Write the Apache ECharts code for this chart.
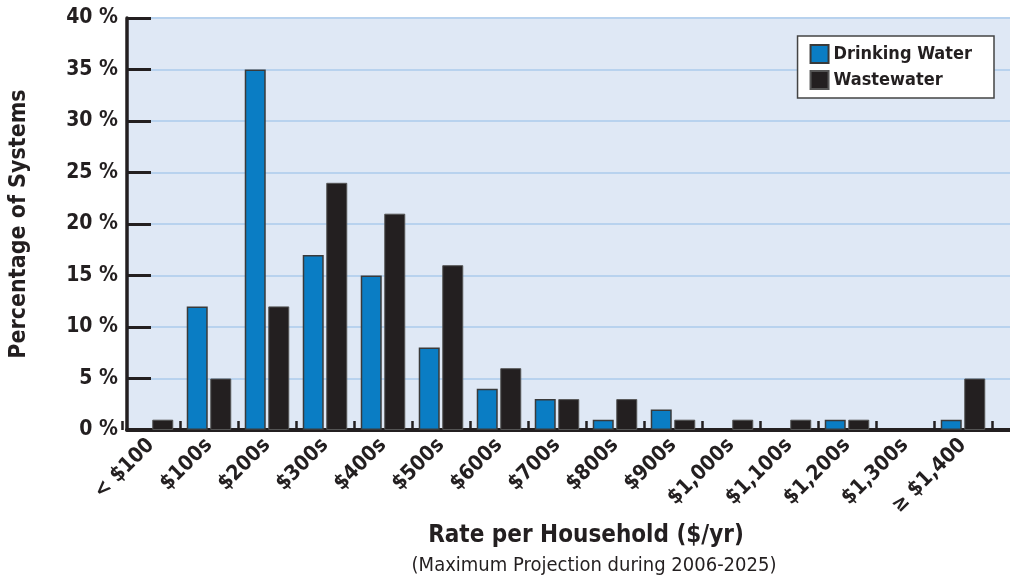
<!DOCTYPE html>
<html>
<head>
<meta charset="utf-8">
<script src="https://cdn.jsdelivr.net/npm/echarts@6/dist/echarts.min.js"></script>
<style>
  html, body { margin: 0; padding: 0; background: #fff; }
  #main { width: 1010px; height: 579px; }
</style>
</head>
<body>
<div id="main"></div>
<script>
var categories = ['< $100', '$100s', '$200s', '$300s', '$400s', '$500s', '$600s', '$700s',
    '$800s', '$900s', '$1,000s', '$1,100s', '$1,200s', '$1,300s', '\u2265 $1,400'];
var drinkingWater = [0, 12, 35, 17, 15, 8, 4, 3, 1, 2, 0, 0, 1, 0, 1];
var wastewater = [1, 5, 12, 24, 21, 16, 6, 3, 3, 1, 1, 1, 1, 0, 5];
var yTicks = [0, 5, 10, 15, 20, 25, 30, 35, 40];

var font = "'Liberation Sans Narrow', 'DejaVu Sans Condensed', sans-serif";
var ink = '#231f20';

// zero values are left out (no bar drawn)
function noZero(arr) {
    return arr.map(function (v) { return v === 0 ? '-' : v; });
}

var chart = echarts.init(document.getElementById('main'));
chart.setOption({
    animation: false,
    backgroundColor: '#fff',
    title: {
        text: '(Maximum Projection during 2006-2025)',
        left: 589,
        top: 551,
        textAlign: 'center',
        textStyle: { fontFamily: font, fontWeight: 'normal', fontSize: 20, color: ink }
    },
    legend: {
        orient: 'vertical',
        right: 16,
        top: 36,
        padding: [8, 22, 8, 12],
        icon: 'rect',
        itemWidth: 18,
        itemHeight: 18,
        itemGap: 6,
        backgroundColor: '#fff',
        borderColor: '#444',
        borderWidth: 1.5,
        textStyle: { fontFamily: font, fontWeight: 'bold', fontSize: 18, color: ink },
        data: ['Drinking Water', 'Wastewater']
    },
    grid: [
        { left: 122, right: 0, top: 18, bottom: 149, show: true, backgroundColor: '#dfe8f5', borderWidth: 0 },
        { left: 122, width: 870, top: 18, bottom: 149 }
    ],
    xAxis: [
        {
            gridIndex: 0, type: 'value', min: 0, max: 1,
            axisLine: { show: true, lineStyle: { color: ink, width: 4 } },
            axisTick: { show: false }, axisLabel: { show: false }, splitLine: { show: false }
        },
        {
            gridIndex: 1, type: 'category', data: categories,
            axisLine: { show: false },
            axisTick: { show: true, inside: true, length: 9, lineStyle: { color: ink, width: 2.5 } },
            axisLabel: {
                rotate: 45, margin: 12, fontFamily: font, fontWeight: 'bold', fontSize: 21, color: ink
            },
            name: 'Rate per Household ($/yr)',
            nameLocation: 'middle',
            nameGap: 90,
            nameTextStyle: { fontFamily: font, fontWeight: 'bold', fontSize: 24, color: ink, padding: [0, 0, 0, 58] }
        }
    ],
    yAxis: [
        {
            gridIndex: 0, type: 'value', min: 0, max: 40, interval: 5,
            axisLine: { show: true, lineStyle: { color: ink, width: 3.5 } },
            axisTick: { show: true, inside: true, length: 24, lineStyle: { color: ink, width: 3 } },
            splitLine: { show: true, lineStyle: { color: '#b8d2ee', width: 2 } },
            axisLabel: {
                margin: 9, fontFamily: font, fontWeight: 'bold', fontSize: 21, color: ink,
                formatter: function (v) { return yTicks.indexOf(v) >= 0 ? v + ' %' : ''; }
            },
            name: 'Percentage of Systems',
            nameLocation: 'middle',
            nameGap: 96,
            nameTextStyle: { fontFamily: font, fontWeight: 'bold', fontSize: 23, color: ink }
        },
        { gridIndex: 1, type: 'value', min: 0, max: 40, show: false }
    ],
    series: [
        {
            name: 'Drinking Water',
            type: 'bar',
            xAxisIndex: 1, yAxisIndex: 1,
            barWidth: 21,
            barGap: '12%',
            itemStyle: { color: '#0a7dc4', borderColor: '#3a3a3a', borderWidth: 1.5 },
            data: noZero(drinkingWater)
        },
        {
            name: 'Wastewater',
            type: 'bar',
            xAxisIndex: 1, yAxisIndex: 1,
            barWidth: 21,
            itemStyle: { color: ink, borderColor: '#555', borderWidth: 1 },
            data: noZero(wastewater)
        }
    ]
});
</script>
</body>
</html>
